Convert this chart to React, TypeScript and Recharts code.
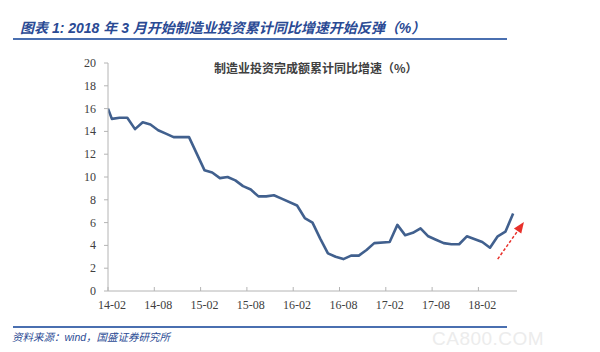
import { Line, LineChart, ReferenceLine, XAxis, YAxis } from "recharts";

// cumulative YoY growth of manufacturing investment, Feb–Dec each year (Jan is folded into Feb)
const monthsOfYear = ["02", "03", "04", "05", "06", "07", "08", "09", "10", "11", "12"];
const v2014 = [15.1, 15.2, 15.2, 14.2, 14.8, 14.6, 14.1, 13.8, 13.5, 13.5, 13.5];
const v2015 = [10.6, 10.4, 9.9, 10.0, 9.7, 9.2, 8.9, 8.3, 8.3, 8.4, 8.1];
const v2016 = [7.5, 6.4, 6.0, 4.6, 3.3, 3.0, 2.8, 3.1, 3.1, 3.6, 4.2];
const v2017 = [4.3, 5.8, 4.9, 5.1, 5.5, 4.8, 4.5, 4.2, 4.1, 4.1, 4.8];
const v2018 = [4.3, 3.8, 4.8, 5.2, 6.8];
const yearSeries: [string, number[]][] = [
  ["14", v2014],
  ["15", v2015],
  ["16", v2016],
  ["17", v2017],
  ["18", v2018],
];
// the series opens on the left edge of the axis
const openingValue = 16.0;

const xTickLabels = ["14-02", "14-08", "15-02", "15-08", "16-02", "16-08", "17-02", "17-08", "18-02"];
const yTicks = [0, 2, 4, 6, 8, 10, 12, 14, 16, 18, 20];

const lineColor = "#41608e";
const axisColor = "#b4b4b4";
const textColor = "#404040";
const blue = "#2a4a94";
const serif = "Liberation Serif, Times New Roman, DejaVu Serif, serif";

// months counted from 14-02
const monthIndex = (label: string) => {
  const [yy, mm] = label.split("-").map(Number);
  return (yy - 14) * 12 + (mm - 2);
};

const data = [
  { idx: -0.5, value: openingValue },
  ...yearSeries.flatMap(([yy, vals]) =>
    vals.map((v, i) => ({ idx: monthIndex(`${yy}-${monthsOfYear[i]}`), label: `${yy}-${monthsOfYear[i]}`, value: v }))
  ),
];

const xTicks = xTickLabels.map((l) => monthIndex(l) - 0.5);

const XTick = ({ x, y, payload }: any) => {
  const label = xTickLabels[xTicks.indexOf(payload.value)];
  return (
    <g>
      <line x1={x} y1={y} x2={x} y2={y - 4} stroke={axisColor} />
      <text x={x + 3.9} y={y + 18} textAnchor="middle" style={{ fontSize: 12, fill: textColor, fontFamily: serif }}>
        {label}
      </text>
    </g>
  );
};

const YTick = ({ x, y, payload }: any) => (
  <text x={x} y={y + 4} textAnchor="end" style={{ fontSize: 12, fill: textColor, fontFamily: serif }}>
    {payload.value}
  </text>
);

const Arrow = ({ x1, y1, x2, y2 }: any) => {
  const ang = Math.atan2(y2 - y1, x2 - x1);
  const len = 11;
  const half = 4.5;
  const bx = x2 - len * Math.cos(ang);
  const by = y2 - len * Math.sin(ang);
  const px = -Math.sin(ang) * half;
  const py = Math.cos(ang) * half;
  return (
    <g>
      <line x1={x1} y1={y1} x2={bx} y2={by} stroke="#e8302a" strokeWidth={1.5} strokeDasharray="3 2" />
      <polygon points={`${x2},${y2} ${bx + px},${by + py} ${bx - px},${by - py}`} fill="#e8302a" />
    </g>
  );
};

export default function App() {
  return (
    <div style={{ position: "absolute", left: 0, top: 0, width: 600, height: 352, background: "#fff", overflow: "hidden" }}>
      <div
        style={{
          position: "absolute",
          left: 20,
          top: 18,
          fontFamily: "'Liberation Sans', 'Noto Sans CJK SC', sans-serif",
          fontSize: 14,
          fontWeight: 700,
          fontStyle: "italic",
          color: blue,
          whiteSpace: "nowrap",
          lineHeight: "20px",
        }}
      >
        图表 1: 2018 年 3 月开始制造业投资累计同比增速开始反弹（%）
      </div>
      <div style={{ position: "absolute", left: 13, top: 38, width: 494, height: 2, background: "#4a6fb0" }} />

      <div
        style={{
          position: "absolute",
          left: 214,
          top: 60,
          width: 200,
          textAlign: "center",
          fontFamily: "'Noto Sans CJK SC', sans-serif",
          fontSize: 12,
          fontWeight: 700,
          color: "#404040",
          whiteSpace: "nowrap",
          lineHeight: "16px",
        }}
      >
        制造业投资完成额累计同比增速（%）
      </div>

      <div style={{ position: "absolute", left: 0, top: 0 }}>
        <LineChart width={600} height={352} data={data} margin={{ top: 63, right: 83, bottom: 0, left: 0 }}>
          <XAxis
            type="number"
            dataKey="idx"
            domain={[-0.5, 52.5]}
            ticks={xTicks}
            interval={0}
            height={61}
            tickSize={0}
            tickMargin={0}
            tickLine={false}
            tick={<XTick />}
            stroke={axisColor}
            allowDataOverflow
          />
          <YAxis
            width={108}
            domain={[0, 20]}
            ticks={yTicks}
            interval={0}
            tickSize={4}
            tickMargin={8}
            stroke={axisColor}
            tick={<YTick />}
          />
          <Line
            type="linear"
            dataKey="value"
            stroke={lineColor}
            strokeWidth={2.6}
            dot={false}
            isAnimationActive={false}
            strokeLinejoin="round"
          />
          <ReferenceLine
            segment={[
              { x: 50.0, y: 2.8 },
              { x: 53.4, y: 6.05 },
            ]}
            ifOverflow="visible"
            shape={<Arrow />}
          />
        </LineChart>
      </div>

      <div style={{ position: "absolute", left: 13, top: 326, width: 494, height: 1.5, background: "#4a6fb0" }} />
      <div
        style={{
          position: "absolute",
          left: 12,
          top: 330,
          fontFamily: "'Liberation Sans', 'Noto Sans CJK SC', sans-serif",
          fontSize: 10.5,
          fontStyle: "italic",
          color: blue,
          whiteSpace: "nowrap",
          lineHeight: "14px",
        }}
      >
        资料来源：wind，国盛证券研究所
      </div>
      <div
        style={{
          position: "absolute",
          left: 432,
          top: 329,
          fontFamily: "'Liberation Sans', sans-serif",
          fontSize: 19,
          color: "#ececec",
          whiteSpace: "nowrap",
          lineHeight: "20px",
          letterSpacing: 0.5,
        }}
      >
        CA800.COM
      </div>
    </div>
  );
}
